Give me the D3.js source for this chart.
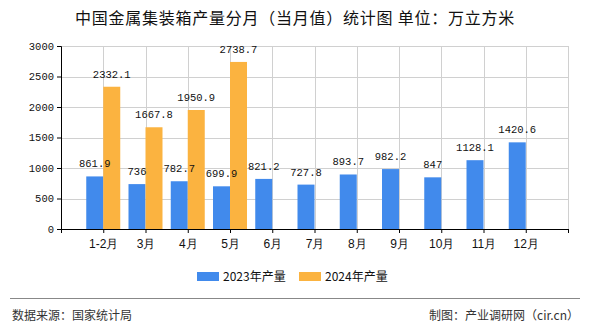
<!DOCTYPE html>
<html><head><meta charset="utf-8">
<script src="https://cdn.jsdelivr.net/npm/d3@7"></script>
<style>body{margin:0;background:#fff;}svg{display:block;font-family:"Noto Sans CJK SC","DejaVu Sans",sans-serif;}</style>
</head><body>
<svg id="c" width="590" height="330"></svg>
<script>
const categories = ["1-2月","3月","4月","5月","6月","7月","8月","9月","10月","11月","12月"];
const values2023 = [861.9,736,782.7,699.9,821.2,727.8,893.7,982.2,847,1128.1,1420.6];
const values2024 = [2332.1,1667.8,1950.9,2738.7,null,null,null,null,null,null,null];
const yTicks = [0,500,1000,1500,2000,2500,3000];
const seriesNames = ["2023年产量","2024年产量"];
const colors = ["#418AEC","#FBB340"];

const svg = d3.select("#c");
const L=61,R=568,T=46,B=229;
const x = d3.scaleLinear().domain([0,12]).range([L,R]);
const y = d3.scaleLinear().domain([0,3000]).range([B,T]);
const bw = 17;

svg.append("text").attr("x",295).attr("y",24).attr("text-anchor","middle")
  .attr("font-size",16).attr("letter-spacing","0.75px").attr("fill","#111").text("中国金属集装箱产量分月（当月值）统计图 单位：万立方米");

// grid
const g = svg.append("g");
g.selectAll(".hg").data(yTicks.slice(1)).join("line")
  .attr("x1",L).attr("x2",R).attr("y1",d=>Math.round(y(d))+0.5).attr("y2",d=>Math.round(y(d))+0.5)
  .attr("stroke","#d0d0d0").attr("stroke-width",1);
g.selectAll(".vg").data(categories).join("line")
  .attr("x1",(d,i)=>Math.round(x(i+1))+0.5).attr("x2",(d,i)=>Math.round(x(i+1))+0.5)
  .attr("y1",T).attr("y2",B)
  .attr("stroke","#d0d0d0").attr("stroke-width",1);
g.append("line").attr("x1",R+0.5).attr("x2",R+0.5).attr("y1",T).attr("y2",B)
  .attr("stroke","#d0d0d0");

// bars
const series=[values2023,values2024];
const allData = [];
series.forEach((vals,s)=>{
  const data = vals.map((v,i)=>({v,i,s})).filter(d=>d.v!=null);
  allData.push(...data);
  svg.append("g").selectAll("rect").data(data).join("rect")
    .attr("x",d=>x(d.i+1)+(s===0?-bw:0)).attr("width",bw)
    .attr("y",d=>y(d.v)).attr("height",d=>B-y(d.v))
    .attr("fill",colors[s]);
});
svg.append("g").selectAll("text").data(allData).join("text")
  .attr("x",d=>x(d.i+1)+(d.s===0?-bw/2:bw/2)).attr("y",d=>y(d.v)-9)
  .attr("text-anchor","middle").attr("font-size",10.5).attr("fill","#111")
  .attr("font-family","'Liberation Mono','DejaVu Sans Mono',monospace")
  .text(d=>d.v);

// axes
const ya = d3.axisLeft(y).tickValues(yTicks).tickSize(4).tickFormat(d=>d);
const yg = svg.append("g").attr("transform",`translate(${L},0)`).call(ya);
yg.select(".domain").attr("stroke","#000");
yg.selectAll("text").attr("font-size",10.5).attr("fill","#111").attr("font-family","'Liberation Mono','DejaVu Sans Mono',monospace");

const xa = d3.axisBottom(x).tickValues(d3.range(0,13)).tickSize(4).tickSizeOuter(0)
  .tickFormat(d=> (d>=1&&d<=11)?categories[d-1]:"");
const xg = svg.append("g").attr("transform",`translate(0,${B})`).call(xa);
xg.select(".domain").attr("stroke","#000");
xg.selectAll("text").attr("font-size",12).attr("fill","#111").attr("dy","1em");

// legend
const lx=[197,299];
seriesNames.forEach((n,i)=>{
  svg.append("rect").attr("x",lx[i]).attr("y",272).attr("width",22).attr("height",9).attr("fill",colors[i]);
  svg.append("text").attr("x",lx[i]+26).attr("y",281).attr("font-size",12).attr("fill","#111").text(n);
});

// footer
svg.append("line").attr("x1",10).attr("x2",580).attr("y1",298.5).attr("y2",298.5).attr("stroke","#888");
svg.append("text").attr("x",12).attr("y",319.5).attr("font-size",12).attr("fill","#333").text("数据来源：国家统计局");
svg.append("text").attr("x",579).attr("y",319.5).attr("text-anchor","end").attr("font-size",12).attr("fill","#333").text("制图：产业调研网（cir.cn）");
</script>
</body></html>
